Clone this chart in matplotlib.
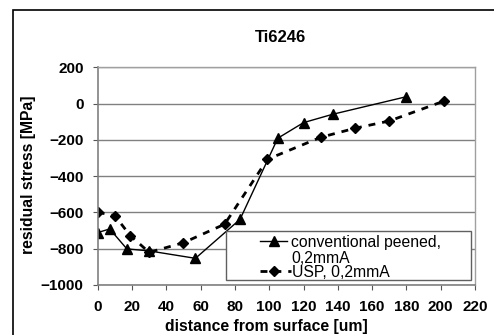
import matplotlib.pyplot as plt
from matplotlib.patches import Rectangle
from matplotlib.lines import Line2D

plt.rcParams['font.family'] = ['Liberation Sans', 'DejaVu Sans']

# conventional peened, 0,2mmA
conv_x = [0, 7, 17, 30, 57, 83, 105, 120, 137, 180]
conv_y = [-711, -691, -801, -812, -853, -638, -191, -105, -59, 38]

# USP, 0,2mmA
usp_x = [0, 10, 19, 30, 50, 74, 99, 130, 150, 170, 202]
usp_y = [-599, -618, -728, -820, -767, -665, -307, -186, -136, -96, 14]

xticks = list(range(0, 221, 20))
yticks = list(range(-1000, 201, 200))

W, H = 494, 335
fig = plt.figure(figsize=(W / 100, H / 100), dpi=100)


def fx(px):
    return px / W


def fy(py):
    return 1 - py / H


# outer chart frame (runs off the right and bottom of the picture)
fig.patches.append(Rectangle((fx(13), -0.1), 1.2, fy(10) + 0.1,
                             transform=fig.transFigure, fill=False,
                             edgecolor='black', linewidth=1.2))

ax = fig.add_axes([fx(97.7), fy(285), 377.3 / W, 217.7 / H])

conv_style = dict(color='black', linewidth=1, marker='^', markersize=7)
usp_style = dict(color='black', linewidth=2, linestyle=(0, (2.5, 2.5)),
                 marker='D', markersize=5.5)

ax.plot(conv_x, conv_y, **conv_style)
ax.plot(usp_x, usp_y, **usp_style)

ax.set_xlim(0, 220)
ax.set_ylim(-1000, 200)
ax.set_xticks(xticks)
ax.set_yticks(yticks)
ax.tick_params(direction='out', length=3.6, color='#555555', labelsize=11)
ax.tick_params(axis='x', pad=7.5)
ax.tick_params(axis='y', pad=6.5)
for lbl in ax.get_xticklabels() + ax.get_yticklabels():
    lbl.set_fontweight('bold')
ax.yaxis.grid(True, color='#808080', linewidth=1)
ax.set_axisbelow(True)
for s in ['left', 'bottom']:
    ax.spines[s].set_color('#808080')
    ax.spines[s].set_linewidth(1.2)
for s in ['top', 'right']:
    ax.spines[s].set_color('#a0a0a0')
    ax.spines[s].set_linewidth(1)

# legend box, drawn by hand to get Excel's loose layout
fig.patches.append(Rectangle((fx(225.7), fy(280)), (470.7 - 225.7) / W,
                             (280 - 230.7) / H, transform=fig.transFigure,
                             facecolor='white', edgecolor='#606060',
                             linewidth=1, zorder=5))
h1 = Line2D([fx(260), fx(287)], [fy(241), fy(241)], transform=fig.transFigure,
            color='black', linewidth=1, zorder=6)
m1 = Line2D([fx(274)], [fy(241)], transform=fig.transFigure, color='black',
            marker='^', markersize=7, zorder=6)
h2 = Line2D([fx(259.5), fx(291)], [fy(271), fy(271)], transform=fig.transFigure,
            color='black', linewidth=2, linestyle=(0, (2.5, 2.5)), zorder=6)
m2 = Line2D([fx(273.5)], [fy(271)], transform=fig.transFigure, color='black',
            marker='D', markersize=5.5, zorder=6)
fig.lines.extend([h1, m1, h2, m2])
leg_font = 11.3
fig.text(fx(291), fy(247.5), 'conventional peened,', fontsize=leg_font,
         va='baseline', zorder=7)
fig.text(fx(291), fy(263.3), '0,2mmA', fontsize=leg_font, va='baseline', zorder=7)
fig.text(fx(292), fy(276.7), 'USP, 0,2mmA', fontsize=leg_font, va='baseline',
         zorder=7)

fig.text(fx(280), fy(38), 'Ti6246', ha='center', va='center',
         fontsize=12, fontweight='bold')
fig.text(fx(266.5), fy(327), 'distance from surface [um]', ha='center',
         va='center', fontsize=11.3, fontweight='bold')
fig.text(fx(29), fy(175), 'residual stress [MPa]', ha='center',
         va='center', rotation=90, fontsize=11.3, fontweight='bold')

fig.savefig('out.png', dpi=100)
